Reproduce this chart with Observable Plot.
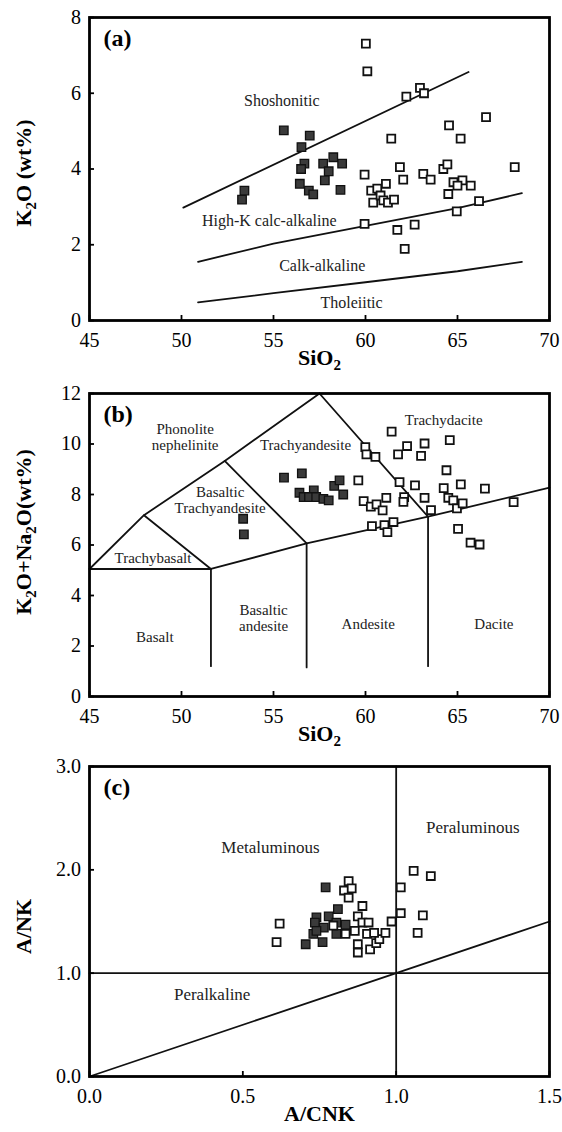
<!DOCTYPE html>
<html>
<head>
<meta charset="utf-8">
<script src="https://cdn.jsdelivr.net/npm/d3@7"></script>
<script src="https://cdn.jsdelivr.net/npm/@observablehq/plot@0.6"></script>
<style>
  html, body { margin: 0; padding: 0; background: #fff; }
  #chart svg { display: block; }
</style>
</head>
<body>
<div id="chart"></div>
<script>
// ---- (a) SiO2 vs K2O ----
const aDark = [[55.56,5.02],[56.97,4.88],[56.52,4.58],[56.68,4.14],[56.50,4.00],[57.70,4.14],[58.25,4.31],[58.73,4.14],[58.00,3.94],[57.79,3.70],[56.43,3.61],[56.92,3.43],[57.16,3.33],[58.64,3.45],[53.42,3.43],[53.29,3.19]];
const aOpen = [[60.02,7.31],[60.10,6.58],[62.22,5.91],[62.96,6.14],[63.18,6.00],[66.55,5.37],[64.54,5.15],[65.17,4.80],[61.40,4.80],[68.11,4.05],[59.95,3.85],[61.87,4.05],[62.05,3.72],[63.14,3.87],[63.54,3.72],[64.23,4.00],[64.45,4.12],[60.31,3.43],[60.64,3.48],[61.11,3.61],[60.42,3.11],[60.82,3.30],[60.97,3.17],[61.22,3.11],[61.55,3.19],[64.78,3.65],[65.27,3.70],[65.00,3.56],[65.72,3.56],[64.50,3.34],[66.17,3.15],[64.96,2.88],[59.95,2.55],[61.73,2.39],[62.67,2.53],[62.13,1.89]];
const aBoundaries = [
  [[50.1,2.98],[65.6,6.56]],
  [[50.9,1.55],[55,2.03],[60,2.50],[65,2.97],[68.5,3.36]],
  [[50.9,0.48],[55,0.72],[60,1.01],[65,1.30],[68.5,1.55]]
];
const aFields = [["Shoshonitic",55.45,5.81],["High-K calc-alkaline",54.77,2.63],["Calk-alkaline",57.65,1.45],["Tholeiitic",59.24,0.46]];
const aXTicks = [45,50,55,60,65,70];
const aYTicks = [0,2,4,6,8];

// ---- (b) TAS ----
const bDark = [[55.57,8.67],[56.54,8.84],[56.41,8.07],[56.64,7.90],[57.19,8.16],[56.93,7.90],[57.32,7.90],[57.71,7.83],[58.00,7.77],[58.30,8.34],[58.59,8.56],[58.79,8.00],[53.35,7.04],[53.39,6.42]];
const bOpen = [[61.42,10.49],[59.99,9.88],[60.05,9.59],[60.54,9.49],[62.26,9.92],[63.21,10.02],[64.58,10.15],[61.77,9.59],[63.02,9.53],[59.61,8.56],[61.85,8.49],[62.69,8.36],[64.40,8.96],[64.25,8.25],[65.18,8.40],[66.49,8.23],[68.05,7.70],[59.90,7.74],[60.29,7.52],[60.60,7.61],[60.93,7.37],[61.13,7.87],[62.10,7.90],[62.06,7.71],[63.21,7.87],[63.56,7.38],[64.50,7.87],[64.77,7.77],[64.97,7.45],[65.28,7.65],[60.35,6.75],[61.03,6.79],[61.19,6.51],[61.52,6.91],[65.03,6.64],[65.71,6.09],[66.20,6.02]];
const bBoundaries = [
  [[45,5.05],[47.96,7.18],[52.35,9.33],[57.5,12]],
  [[57.5,12],[63.4,7.12]],
  [[47.96,7.18],[51.6,5.05]],
  [[52.35,9.33],[56.8,6.06]],
  [[45,5.05],[51.6,5.05]],
  [[51.6,5.05],[56.8,6.06],[63.4,7.12],[70,8.27]],
  [[51.6,5.05],[51.6,1.2]],
  [[56.8,6.06],[56.8,1.15]],
  [[63.4,7.12],[63.4,1.2]]
];
const bFields = [["Phonolite\nnephelinite",50.2,10.27],["Trachyandesite",56.74,9.96],["Trachydacite",64.25,10.96],["Basaltic\nTrachyandesite",52.1,7.79],["Trachybasalt",48.45,5.49],["Basaltic\nandesite",54.46,3.10],["Andesite",60.15,2.88],["Dacite",66.98,2.88],["Basalt",48.55,2.34]];
const bXTicks = [45,50,55,60,65,70];
const bYTicks = [0,2,4,6,8,10,12];

// ---- (c) A/CNK vs A/NK ----
const cDark = [[0.77,1.83],[0.81,1.62],[0.74,1.54],[0.735,1.49],[0.78,1.55],[0.805,1.49],[0.835,1.47],[0.73,1.38],[0.705,1.28],[0.76,1.30],[0.805,1.38],[0.764,1.44],[0.74,1.41]];
const cOpen = [[0.61,1.30],[0.62,1.48],[0.845,1.89],[0.83,1.80],[0.855,1.82],[0.845,1.73],[0.89,1.65],[0.795,1.46],[0.835,1.38],[0.875,1.55],[0.89,1.49],[0.91,1.49],[0.865,1.41],[0.905,1.38],[0.875,1.28],[0.875,1.20],[0.915,1.23],[0.935,1.29],[0.945,1.33],[0.965,1.39],[0.985,1.50],[1.015,1.83],[1.057,1.99],[1.113,1.94],[1.015,1.58],[1.087,1.56],[1.07,1.39],[0.928,1.39]];
const cBoundaries = [
  [[0,1],[1.5,1]],
  [[1,0],[1,3]],
  [[0,0],[1.5,1.5]]
];
const cFields = [["Metaluminous",0.59,2.22],["Peraluminous",1.25,2.41],["Peralkaline",0.40,0.80]];
const cXTicks = [0,0.5,1.0,1.5];
const cYTicks = [0,1,2,3];

const serif = "'Liberation Serif', 'Times New Roman', Times, serif";

function segments(list) {
  return list.flatMap((seg, i) => seg.map(([x, y]) => ({x, y, seg: i})));
}

function panel(o) {
  return Plot.plot({
    width: 562,
    height: o.height,
    marginLeft: 89,
    marginRight: 13,
    marginTop: o.marginTop,
    marginBottom: o.marginBottom,
    style: {fontFamily: serif, fontSize: "20px", color: "#000", background: "#fff", overflow: "visible"},
    x: {domain: o.xDomain},
    y: {domain: o.yDomain},
    marks: [
      Plot.line(segments(o.boundaries), {x: "x", y: "y", z: "seg", stroke: "#111", strokeWidth: 1.8}),
      Plot.text(o.fields, {x: d => d[1], y: d => d[2], text: d => d[0], fontSize: o.fieldSize, lineHeight: 1.05, fill: "#222", style: o.fieldStyle, className: "field"}),
      Plot.dot(o.dark, {x: d => d[0], y: d => d[1], symbol: "square", r: 4.8, fill: "#3a3a3a", stroke: "#111", strokeWidth: 1.3}),
      Plot.dot(o.open, {x: d => d[0], y: d => d[1], symbol: "square", r: 4.5, fill: "#fff", stroke: "#111", strokeWidth: 1.8}),
      Plot.frame({stroke: "#000", strokeWidth: 2.8}),
      Plot.axisX({ticks: o.xTicks, tickFormat: o.xFormat, tickSize: -5, tickPadding: 17, strokeWidth: 1.8, label: null, fontSize: 20}),
      Plot.axisY({ticks: o.yTicks, tickFormat: o.yFormat, tickSize: -5, tickPadding: 13.5, strokeWidth: 1.8, label: null, fontSize: 20}),
      Plot.text([o.yTitle], {frameAnchor: "left", dx: -66, dy: o.yTitleDy, rotate: -90, textAnchor: "middle", lineAnchor: "middle", fontWeight: "bold", fontSize: 22, className: "rich"}),
      Plot.text([o.xTitle], {frameAnchor: "bottom", dy: 37, textAnchor: "middle", lineAnchor: "middle", fontWeight: "bold", fontSize: 22, className: "rich"}),
      Plot.text([o.tag], {frameAnchor: "top-left", dx: 14, dy: 11, textAnchor: "start", lineAnchor: "top", fontWeight: "bold", fontSize: 24})
    ]
  });
}

// Render digits inside the chemical formulas as subscripts
function subscriptDigits(svg) {
  svg.querySelectorAll(".rich text").forEach(t => {
    const s = t.textContent;
    t.textContent = "";
    const ns = "http://www.w3.org/2000/svg";
    let shifted = false;
    for (const part of s.split(/(\d)/)) {
      if (!part) continue;
      const ts = document.createElementNS(ns, "tspan");
      ts.textContent = part;
      if (/\d/.test(part)) {
        ts.setAttribute("font-size", "15");
        ts.setAttribute("dy", "5");
        shifted = true;
      } else if (shifted) {
        ts.setAttribute("dy", "-5");
        shifted = false;
      }
      t.appendChild(ts);
    }
  });
}

const f1 = d3.format(".1f");
const charts = [
  panel({height: 370, marginTop: 17, marginBottom: 50, xDomain: [45, 70], yDomain: [0, 8],
    xTicks: aXTicks, yTicks: aYTicks, xFormat: d3.format("d"), yFormat: d3.format("d"),
    boundaries: aBoundaries, fields: aFields, fieldSize: 16, fieldStyle: {letterSpacing: "0.5px"},
    dark: aDark, open: aOpen, yTitle: "K2O (wt%)", yTitleDy: 4, xTitle: "SiO2", tag: "(a)"}),
  panel({height: 380, marginTop: 23, marginBottom: 54, xDomain: [45, 70], yDomain: [0, 12],
    xTicks: bXTicks, yTicks: bYTicks, xFormat: d3.format("d"), yFormat: d3.format("d"),
    boundaries: bBoundaries, fields: bFields, fieldSize: 15, fieldStyle: {},
    dark: bDark, open: bOpen, yTitle: "K2O+Na2O(wt%)", yTitleDy: -13, xTitle: "SiO2", tag: "(b)"}),
  panel({height: 382, marginTop: 16, marginBottom: 56, xDomain: [0, 1.5], yDomain: [0, 3],
    xTicks: cXTicks, yTicks: cYTicks, xFormat: f1, yFormat: f1,
    boundaries: cBoundaries, fields: cFields, fieldSize: 17, fieldStyle: {letterSpacing: "1px"},
    dark: cDark, open: cOpen, yTitle: "A/NK", yTitleDy: 5, xTitle: "A/CNK", tag: "(c)"})
];

const root = document.getElementById("chart");
for (const c of charts) {
  subscriptDigits(c);
  root.appendChild(c);
}
</script>
</body>
</html>
